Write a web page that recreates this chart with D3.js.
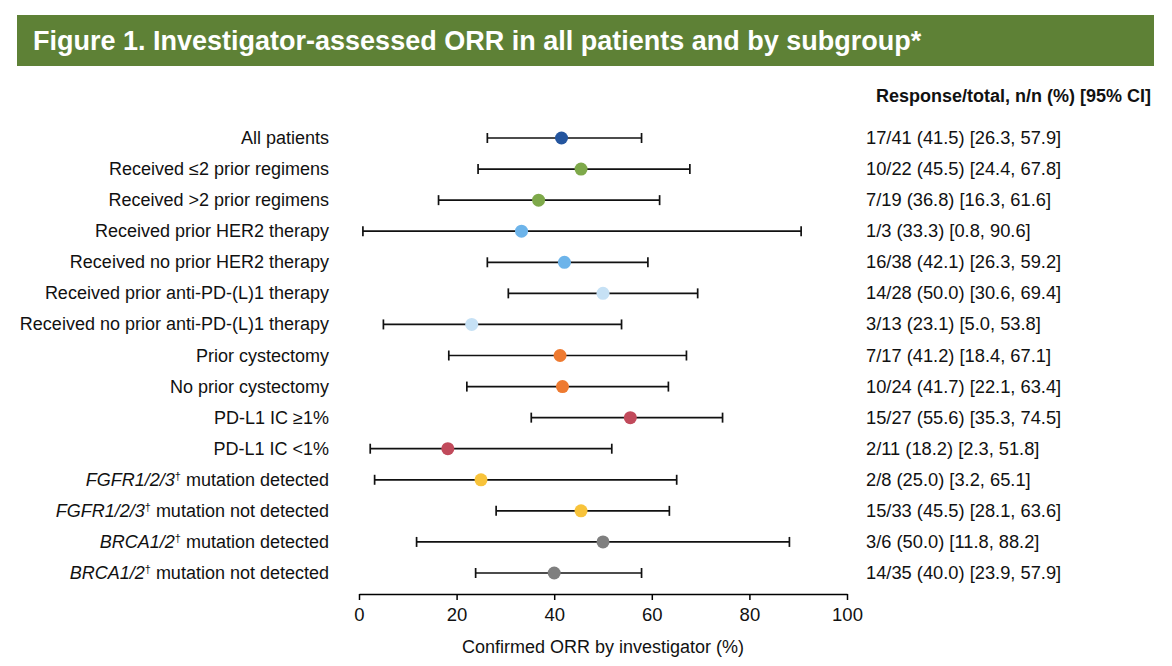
<!DOCTYPE html>
<html>
<head>
<meta charset="utf-8">
<script src="https://cdn.jsdelivr.net/npm/d3@7"></script>
<style>
  body { margin: 0; background: #fff; }
  svg { font-family: "Liberation Sans", Arial, sans-serif; display: block; }
</style>
</head>
<body>
<div id="chart"></div>
<script>
let width = 1172, height = 666;

// data
const italicPart = ["", "", "", "", "", "", "", "", "", "", "", "FGFR1/2/3", "FGFR1/2/3", "BRCA1/2", "BRCA1/2"];
const labels = ["All patients", "Received \u22642 prior regimens", "Received >2 prior regimens",
  "Received prior HER2 therapy", "Received no prior HER2 therapy", "Received prior anti-PD-(L)1 therapy",
  "Received no prior anti-PD-(L)1 therapy", "Prior cystectomy", "No prior cystectomy",
  "PD-L1 IC \u22651%", "PD-L1 IC <1%", " mutation detected", " mutation not detected",
  " mutation detected", " mutation not detected"];
const responders = [17, 10, 7, 1, 16, 14, 3, 7, 10, 15, 2, 2, 15, 3, 14];
const totals = [41, 22, 19, 3, 38, 28, 13, 17, 24, 27, 11, 8, 33, 6, 35];
const orr = [41.5, 45.5, 36.8, 33.3, 42.1, 50.0, 23.1, 41.2, 41.7, 55.6, 18.2, 25.0, 45.5, 50.0, 40.0];
const ciLow = [26.3, 24.4, 16.3, 0.8, 26.3, 30.6, 5.0, 18.4, 22.1, 35.3, 2.3, 3.2, 28.1, 11.8, 23.9];
const ciHigh = [57.9, 67.8, 61.6, 90.6, 59.2, 69.4, 53.8, 67.1, 63.4, 74.5, 51.8, 65.1, 63.6, 88.2, 57.9];
const dotColors = ["#24559e", "#7ea94a", "#7ea94a", "#6db4ea", "#6db4ea", "#c6e1f5", "#c6e1f5",
  "#ee7a30", "#ee7a30", "#c14a5b", "#c14a5b", "#f8c33a", "#f8c33a", "#7f7f7f", "#7f7f7f"];
const xTicks = [0, 20, 40, 60, 80, 100];

const rows = labels.map((l, i) => ({
  label: l, ital: italicPart[i], n: responders[i], tot: totals[i],
  orr: orr[i], lo: ciLow[i], hi: ciHigh[i], color: dotColors[i]
}));

const svg = d3.select("#chart").append("svg")
  .attr("width", width).attr("height", height);

// title banner
svg.append("rect")
  .attr("x", 17).attr("y", 15).attr("width", 1137).attr("height", 51)
  .attr("fill", "#5e8136");
svg.append("text")
  .attr("x", 33).attr("y", 50)
  .attr("fill", "#fff").attr("font-size", 27).attr("font-weight", "bold")
  .text("Figure 1. Investigator-assessed ORR in all patients and by subgroup*");

let x = d3.scaleLinear().domain([0, 100]).range([359, 847]);
let y = d3.scalePoint().domain(d3.range(rows.length)).range([138, 573]);

// axis
const axisY = 594;
const ax = svg.append("g")
  .attr("transform", `translate(0,${axisY})`)
  .call(d3.axisBottom(x).tickValues(xTicks).tickSize(6).tickPadding(8).tickSizeOuter(0));
ax.select(".domain").attr("stroke", "#000").attr("stroke-width", 1.5);
ax.selectAll(".tick line").attr("stroke", "#000").attr("stroke-width", 1.5);
ax.selectAll(".tick text").attr("font-size", 18.5).attr("fill", "#111")
  .attr("font-family", "Liberation Sans, Arial, sans-serif");

svg.append("text")
  .attr("x", x(50)).attr("y", 653).attr("text-anchor", "middle")
  .attr("font-size", 18).attr("fill", "#111")
  .text("Confirmed ORR by investigator (%)");

// CI lines
const g = svg.append("g");
g.selectAll("line.ci").data(rows).join("line")
  .attr("class", "ci")
  .attr("x1", d => x(d.lo)).attr("x2", d => x(d.hi))
  .attr("y1", (d, i) => y(i)).attr("y2", (d, i) => y(i))
  .attr("stroke", "#111").attr("stroke-width", 1.7);
g.selectAll("line.capL").data(rows).join("line")
  .attr("class", "capL")
  .attr("x1", d => x(d.lo)).attr("x2", d => x(d.lo))
  .attr("y1", (d, i) => y(i) - 5).attr("y2", (d, i) => y(i) + 5)
  .attr("stroke", "#111").attr("stroke-width", 1.7);
g.selectAll("line.capR").data(rows).join("line")
  .attr("class", "capR")
  .attr("x1", d => x(d.hi)).attr("x2", d => x(d.hi))
  .attr("y1", (d, i) => y(i) - 5).attr("y2", (d, i) => y(i) + 5)
  .attr("stroke", "#111").attr("stroke-width", 1.7);
g.selectAll("circle").data(rows).join("circle")
  .attr("cx", d => x(d.orr)).attr("cy", (d, i) => y(i))
  .attr("r", 6.5).attr("fill", d => d.color);

// row labels
const lab = svg.append("g").selectAll("text").data(rows).join("text")
  .attr("x", 329).attr("y", (d, i) => y(i) + 6)
  .attr("text-anchor", "end").attr("font-size", 18).attr("fill", "#111");
lab.each(function(d) {
  const t = d3.select(this);
  if (d.ital) {
    t.append("tspan").attr("font-style", "italic").text(d.ital);
    t.append("tspan").attr("font-size", 11).attr("dy", -6).text("\u2020");
    t.append("tspan").attr("dy", 6).text(d.label);
  } else {
    t.text(d.label);
  }
});

// right column
svg.append("text")
  .attr("x", 876).attr("y", 102).attr("font-size", 18).attr("font-weight", "bold").attr("fill", "#111")
  .text("Response/total, n/n (%) [95% CI]");
svg.append("g").selectAll("text").data(rows).join("text")
  .attr("x", 866).attr("y", (d, i) => y(i) + 6)
  .attr("font-size", 18.3).attr("fill", "#111")
  .text(d => `${d.n}/${d.tot} (${d.orr.toFixed(1)}) [${d.lo.toFixed(1)}, ${d.hi.toFixed(1)}]`);
</script>
</body>
</html>
